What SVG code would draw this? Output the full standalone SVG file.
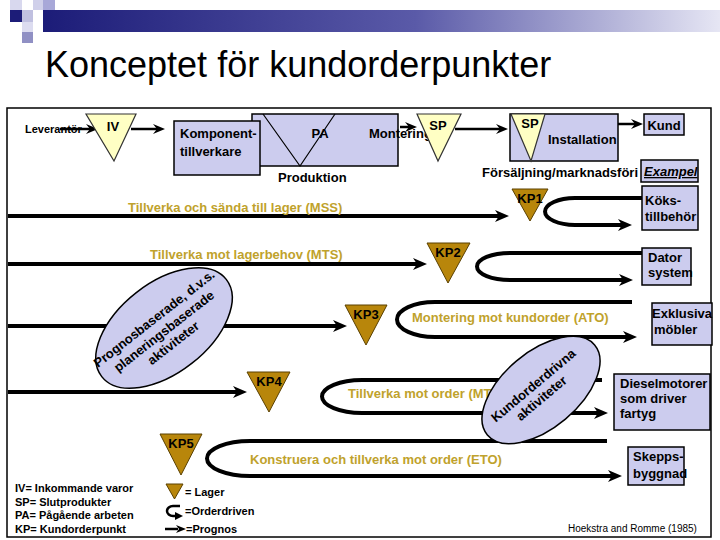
<svg xmlns="http://www.w3.org/2000/svg" width="720" height="540" viewBox="0 0 720 540">
<defs>
<linearGradient id="bar" x1="0" y1="0" x2="1" y2="0">
<stop offset="0" stop-color="#1c1c78"/>
<stop offset="0.55" stop-color="#5a5aa8"/>
<stop offset="1" stop-color="#e6e6f4"/>
</linearGradient>
<marker id="ah" viewBox="0 0 14 12" refX="4" refY="6" markerWidth="14" markerHeight="12" markerUnits="userSpaceOnUse" orient="auto"><path d="M0,0 L14,6 L0,12 L4,6 z" fill="#000"/></marker>
<marker id="as" viewBox="0 0 12 10" refX="4" refY="5" markerWidth="12" markerHeight="10" markerUnits="userSpaceOnUse" orient="auto"><path d="M0,0 L12,5 L0,10 L4,5 z" fill="#000"/></marker>
<style>
text{font-family:"Liberation Sans",Arial,sans-serif;}
.b{font-weight:bold;font-size:13px;fill:#000;}
.c{text-anchor:middle;}
.g{font-weight:bold;font-size:13px;fill:#bfa22c;}
.lg{font-weight:bold;font-size:11px;fill:#000;}
.box{fill:#ccccee;stroke:#000;stroke-width:1.5;}
.yel{fill:#ffffc4;stroke:#333;stroke-width:1.2;}
.kp{fill:#b8860b;stroke:#5a4000;stroke-width:1;}
.ar{fill:none;stroke:#000;stroke-width:4;marker-end:url(#ah);}
.at{fill:none;stroke:#000;stroke-width:2.5;marker-end:url(#as);}
.ell{fill:#ccccee;stroke:#000;stroke-width:1.5;}
</style>
</defs>
<rect width="720" height="540" fill="#fff"/>
<g id="logo">
<rect x="43" y="10" width="677" height="22" fill="url(#bar)"/>
<rect x="10" y="0" width="12" height="10" fill="#d8d8ee"/>
<rect x="33" y="0" width="10" height="10" fill="#d0d0ea"/>
<rect x="43" y="0" width="12" height="10" fill="#a8a8d8"/>
<rect x="10" y="10" width="12" height="12" fill="#1c1c78"/>
<rect x="22" y="10" width="11" height="12" fill="#c0c0e0"/>
<rect x="22" y="22" width="11" height="10" fill="#dcdcf0"/>
<rect x="22" y="32" width="11" height="11" fill="#9090c4"/>
</g>
<text x="45" y="77" font-size="36" fill="#000">Konceptet för kundorderpunkter</text>
<rect x="7" y="108" width="704" height="429" fill="none" stroke="#000" stroke-width="1.5"/>

<g id="connectors">
<path class="at" d="M131,129 H157"/>
<path class="at" d="M455,129 H500"/>
<path class="at" d="M618,124 H635"/>
<path class="ar" d="M8,216 H499"/>
<path class="ar" d="M8,264 H417"/>
<path class="ar" d="M8,326 H337"/>
<path class="ar" d="M8,392 H237"/>
<path class="ar" d="M642,198 H575 A30 13.5 0 0 0 575,225 H622"/>
<path class="ar" d="M642,253 H510 A33 13.5 0 0 0 510,280 H623"/>
<path class="ar" d="M632,302 H435 A38 17.5 0 0 0 435,337 H627"/>
<path class="ar" d="M602,380 H362 A40 16.5 0 0 0 362,413 H598"/>
<path class="ar" d="M607,441 H250 A43 17.5 0 0 0 250,476 H612"/>
</g>

<g id="leverantor"><text class="lg" x="25" y="133" font-size="12">Leverantör</text></g>
<g id="lev-arrow"><path class="at" d="M60,129 H90"/></g>
<g id="iv"><polygon class="yel" points="86,114 136,114 114,161"/><text class="b c" x="113" y="131">IV</text></g>
<g id="pa"><rect class="box" x="252" y="114" width="146" height="52"/><path d="M263,114 L300,166 L335,114" fill="none" stroke="#000" stroke-width="1.2"/><text class="b c" x="320" y="138">PA</text></g>
<g id="komponent"><rect class="box" x="174" y="121" width="86" height="54"/><text class="b" x="180" y="138">Komponent-</text><text class="b" x="180" y="156">tillverkare</text></g>
<g id="produktion"><text class="b" x="278" y="182">Produktion</text></g>
<g id="montering"><text class="b" x="369" y="138">Montering</text><path class="at" d="M400,127 H409"/></g>
<g id="sp1"><polygon class="yel" points="417,114 461,114 438,161"/><text class="b c" x="438" y="130">SP</text></g>
<g id="installation"><rect class="box" x="510" y="114" width="108" height="47"/><polygon class="yel" points="511,114 545,114 531,161"/><text class="b c" x="530" y="128">SP</text><text class="b" x="548" y="144">Installation</text></g>
<g id="kund"><rect class="box" x="644" y="114" width="40" height="21"/><text class="b c" x="664" y="130">Kund</text></g>
<g id="forsaljning"><text class="b" x="482" y="177">Försäljning/marknadsföri</text></g>
<g id="exampel"><rect class="box" x="641" y="160" width="57" height="22"/><text class="b" x="644" y="176" font-size="12.5" font-style="italic" text-decoration="underline">Exampel</text></g>

<g id="mss-label"><text class="g" x="128" y="212">Tillverka och sända till lager (MSS)</text></g>
<g id="mts-label"><text class="g" x="150" y="259">Tillverka mot lagerbehov (MTS)</text></g>
<g id="ato-label"><text class="g" x="412" y="322">Montering mot kundorder (ATO)</text></g>
<g id="mto-label"><text class="g" x="348" y="398">Tillverka mot order (MT</text></g>
<g id="eto-label"><text class="g" x="250" y="464">Konstruera och tillverka mot order (ETO)</text></g>

<g id="kp1"><polygon class="kp" points="512,189 548,189 530,221"/><text class="b c" x="530" y="203">KP1</text></g>
<g id="kp2"><polygon class="kp" points="427,243 470,243 448,283"/><text class="b c" x="448" y="257">KP2</text></g>
<g id="kp3"><polygon class="kp" points="345,305 387,305 366,345"/><text class="b c" x="366" y="319">KP3</text></g>
<g id="kp4"><polygon class="kp" points="247,372 290,372 269,412"/><text class="b c" x="269" y="386">KP4</text></g>
<g id="kp5"><polygon class="kp" points="160,434 202,434 181,475"/><text class="b c" x="181" y="448">KP5</text></g>

<g id="prognos-ellipse" transform="translate(164,328) rotate(-38)"><ellipse class="ell" rx="79" ry="45"/><text class="b c" x="-2" y="-9">Prognosbaserade, d.v.s.</text><text class="b c" x="-2" y="7">planeringsbaserade</text><text class="b c" x="-2" y="22">aktiviteter</text></g>
<g id="kundorder-ellipse" transform="translate(541,390) rotate(-40)"><ellipse class="ell" rx="70" ry="38"/><text class="b c" x="-3" y="-4">Kundorderdrivna</text><text class="b c" x="-5" y="11">aktiviteter</text></g>

<g id="koks"><rect class="box" x="642" y="186" width="56" height="44"/><text class="b" x="645" y="205">Köks-</text><text class="b" x="645" y="221">tillbehör</text></g>
<g id="dator"><rect class="box" x="642" y="248" width="49" height="37"/><text class="b" x="648" y="262">Dator</text><text class="b" x="648" y="277">system</text></g>
<g id="exklusiva"><rect class="box" x="652" y="303" width="60" height="42"/><text class="b" x="652" y="318">Exklusiva</text><text class="b" x="654" y="334">möbler</text></g>
<g id="diesel"><rect class="box" x="614" y="374" width="96" height="56"/><text class="b" x="620" y="388">Dieselmotorer</text><text class="b" x="620" y="403">som driver</text><text class="b" x="620" y="418">fartyg</text></g>
<g id="skepps"><rect class="box" x="628" y="447" width="56" height="38"/><text class="b" x="633" y="461">Skepps-</text><text class="b" x="633" y="478">byggnad</text></g>

<g id="legend">
<text class="lg" x="15" y="492">IV= Inkommande varor</text>
<text class="lg" x="15" y="506">SP= Slutprodukter</text>
<text class="lg" x="15" y="519">PA= Pågående arbeten</text>
<text class="lg" x="15" y="533">KP= Kundorderpunkt</text>
<polygon class="kp" points="166,484 183,484 174.5,499"/>
<text class="lg" x="185" y="496">= Lager</text>
<path d="M180,506 H173 A6 5 0 0 0 173,516 H176" fill="none" stroke="#000" stroke-width="2.5"/>
<polygon points="175,512 183,516 175,520" fill="#000"/>
<text class="lg" x="185" y="515">=Orderdriven</text>
<path d="M165,529 H178" stroke="#000" stroke-width="2.5"/>
<polygon points="176,525 186,529 176,533 179,529" fill="#000"/>
<text class="lg" x="186" y="533">=Prognos</text>
</g>
<g id="source"><text x="568" y="532" font-size="10" fill="#000">Hoekstra and Romme (1985)</text></g>
</svg>
